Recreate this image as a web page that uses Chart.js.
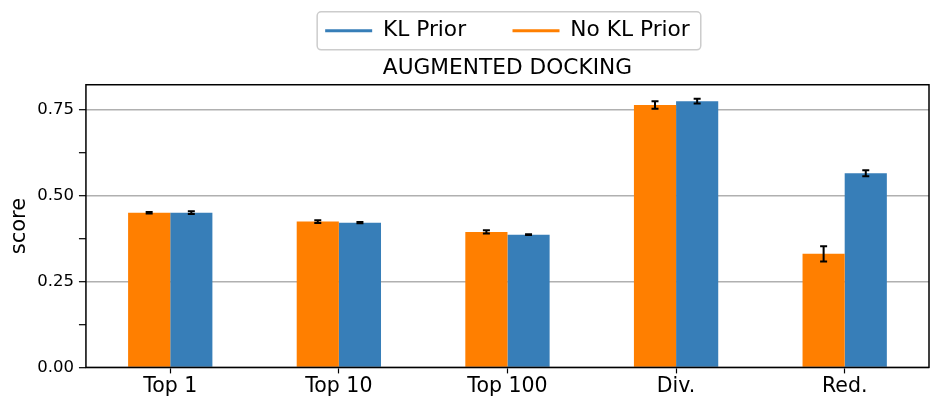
<!DOCTYPE html>
<html lang="en">
<head>
<meta charset="UTF-8">
<title>Augmented docking</title>
<script src="https://cdn.jsdelivr.net/npm/chart.js@4.4.1/dist/chart.umd.min.js"></script>
<style>
    html, body { margin: 0; padding: 0; background: #fff; }
</style>
</head>
<body>
<canvas id="myChart" width="931" height="400"></canvas>

<script>
    // values
    var categories = ['Top 1', 'Top 10', 'Top 100', 'Div.', 'Red.'];
    var noKlScores = [0.451, 0.425, 0.395, 0.765, 0.331];
    var noKlErrors = [0.002, 0.004, 0.005, 0.011, 0.022];
    var klScores   = [0.451, 0.422, 0.387, 0.776, 0.566];
    var klErrors   = [0.004, 0.002, 0.001, 0.007, 0.009];
    var yTicks      = [0, 0.25, 0.5, 0.75];
    var yMinorTicks = [0.125, 0.375, 0.625];
    var yMax = 0.824;

    Chart.defaults.font.family = 'DejaVu Sans';
    Chart.defaults.color = '#000';

    // error bars + axes frame, drawn last like matplotlib spines
    var extrasPlugin = {
        id: 'extras',
        afterDraw: function(chart) {
            var ctx = chart.ctx;
            var y = chart.scales.y;
            ctx.save();
            ctx.strokeStyle = '#000';
            ctx.lineWidth = 2;
            chart.data.datasets.forEach(function(ds, i) {
                var meta = chart.getDatasetMeta(i);
                meta.data.forEach(function(bar, j) {
                    var hi = y.getPixelForValue(ds.data[j] + ds.errors[j]);
                    var lo = y.getPixelForValue(ds.data[j] - ds.errors[j]);
                    ctx.beginPath();
                    ctx.moveTo(bar.x, hi); ctx.lineTo(bar.x, lo);
                    ctx.moveTo(bar.x - 3.5, hi); ctx.lineTo(bar.x + 3.5, hi);
                    ctx.moveTo(bar.x - 3.5, lo); ctx.lineTo(bar.x + 3.5, lo);
                    ctx.stroke();
                });
            });

            var a = chart.chartArea;
            ctx.lineWidth = 1.5;
            ctx.strokeRect(a.left, a.top, a.right - a.left, a.bottom - a.top);

            // legend frame
            var boxes = chart.legend.legendHitBoxes;
            if (boxes && boxes.length) {
                var first = boxes[0], last = boxes[boxes.length - 1];
                var cy = first.top + first.height / 2;
                var left = first.left - 8, right = last.left + last.width + 11;
                ctx.strokeStyle = '#cccccc';
                ctx.lineWidth = 1.5;
                ctx.beginPath();
                ctx.roundRect(left, cy - 19, right - left, 38, 4);
                ctx.stroke();
            }
            ctx.restore();
        }
    };

    var data = {
        labels: categories,
        datasets: [{
            label: 'No KL Prior',
            data: noKlScores,
            errors: noKlErrors,
            backgroundColor: '#ff7f00',
            borderWidth: 0,
            categoryPercentage: 0.5,
            barPercentage: 1.0
        }, {
            label: 'KL Prior',
            data: klScores,
            errors: klErrors,
            backgroundColor: '#377eb8',
            borderWidth: 0,
            categoryPercentage: 0.5,
            barPercentage: 1.0
        }]
    };

    var config = {
        type: 'bar',
        data: data,
        plugins: [extrasPlugin],
        options: {
            responsive: false,
            animation: false,
            layout: { padding: { top: 8, left: 4, right: 2, bottom: 0 } },
            plugins: {
                tooltip: { enabled: false },
                legend: {
                    position: 'top',
                    fullSize: false,
                    weight: 3000,   // keep legend above the title
                    reverse: true,
                    labels: {
                        boxWidth: 47,
                        boxHeight: 3,
                        padding: 12,
                        font: { size: 21.7 },
                        color: '#000',
                        generateLabels: function(chart) {
                            var items = Chart.defaults.plugins.legend.labels.generateLabels(chart);
                            // widen the gap between entries without growing the legend height
                            items.forEach(function(it) {
                                if (it.text === 'KL Prior') it.text = it.text + '     ';
                            });
                            return items;
                        }
                    }
                },
                title: {
                    display: true,
                    text: 'AUGMENTED DOCKING',
                    fullSize: false,
                    color: '#000',
                    font: { size: 21.7, weight: 'normal' },
                    padding: { top: 4, bottom: 3 }
                }
            },
            scales: {
                x: {
                    border: { display: false },
                    grid: {
                        drawOnChartArea: false,
                        offset: false,
                        tickLength: 6,
                        tickWidth: 1.2,
                        tickColor: '#000'
                    },
                    ticks: { font: { size: 20.5 }, color: '#000', padding: 1 }
                },
                y: {
                    min: 0,
                    max: yMax,
                    z: 1,
                    border: { display: false },
                    afterBuildTicks: function(scale) {
                        scale.ticks = yTicks.concat(yMinorTicks)
                            .sort(function(a, b) { return a - b; })
                            .map(function(v) { return { value: v }; });
                    },
                    grid: {
                        lineWidth: 1.4,
                        color: function(c) {
                            return yTicks.indexOf(c.tick.value) >= 0 ? '#b0b0b0' : 'rgba(0,0,0,0)';
                        },
                        tickColor: '#000',
                        tickWidth: 1.2,
                        tickLength: 7
                    },
                    ticks: {
                        autoSkip: false,
                        font: { size: 16.5 },
                        color: '#000',
                        padding: 5,
                        callback: function(value) {
                            return yTicks.indexOf(value) >= 0 ? value.toFixed(2) : '';
                        }
                    },
                    title: {
                        display: true,
                        text: 'score',
                        color: '#000',
                        font: { size: 21 },
                        padding: { top: 3, bottom: 0 }
                    }
                }
            }
        }
    };

    var chart = new Chart(document.getElementById('myChart'), config);
</script>
</body>
</html>
